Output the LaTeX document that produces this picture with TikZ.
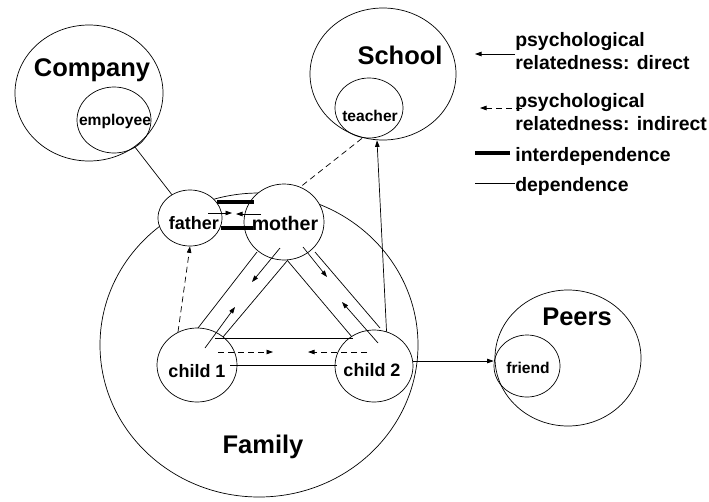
\documentclass[tikz,border=0pt]{standalone}
\usepackage{fontspec}
\setmainfont{Liberation Sans}
\usetikzlibrary{shapes.geometric,arrows.meta,calc}

\begin{document}
\begin{tikzpicture}[x=1pt,y=-1pt,line width=0.7pt,
    ring/.style={draw,ellipse,inner sep=0pt},
    kin/.style={ring,fill=white},
    big/.style={font=\fontsize{25.5}{30}\selectfont\bfseries,inner sep=0pt},
    small/.style={font=\fontsize{15.6}{18}\selectfont\bfseries,inner sep=0pt},
    kintxt/.style={font=\fontsize{18}{21}\selectfont\bfseries,inner sep=0pt},
    key/.style={font=\fontsize{19.4}{23}\selectfont\bfseries,inner sep=0pt,anchor=west,align=left},
    inter/.style={line width=3.8pt},
    rel/.style={-{Triangle[length=6.5pt,width=4.5pt]}},
    indrel/.style={rel,dash pattern=on 6pt off 4pt}]
  \useasboundingbox (0,0) rectangle (709,501);
  % spheres
  \node[ring,minimum width=148pt,minimum height=136pt] (company) at (89,93) {};
  \node[ring,minimum width=74pt,minimum height=66pt] (employee) at (114,120) {};
  \node[ring,minimum width=146pt,minimum height=132pt] (school) at (383,74) {};
  \node[ring,minimum width=68pt,minimum height=60pt] (teacher) at (369,108) {};
  \node[ring,minimum width=146pt,minimum height=136pt] (peers) at (568,358) {};
  \node[ring,minimum width=66pt,minimum height=62pt] (friend) at (527,366) {};
  \node[ring,minimum width=318pt,minimum height=304pt] (family) at (259,345) {};
  \node[kin,minimum width=64pt,minimum height=56pt] (father) at (190,218) {};
  \node[kin,minimum width=80pt,minimum height=76pt] (mother) at (284,222) {};
  \node[ring,minimum width=80pt,minimum height=74pt] (child1) at (197,365) {};
  \node[ring,minimum width=78pt,minimum height=72pt] (child2) at (374,366) {};
  \node[big] (companytxt) at (92,70) {Company};
  \node[big] (schooltxt) at (400,55) {School};
  \node[big] (peerstxt) at (577,317) {Peers};
  \node[big] (familytxt) at (263,447) {Family};
  \node[small] (employeetxt) at (115,121) {employee};
  \node[small] (teachertxt) at (370,116) {teacher};
  \node[small] (friendtxt) at (528,368) {friend};
  \node[kintxt] (fathertxt) at (194,223) {father};
  \node[kintxt,font=\fontsize{19.6}{22}\selectfont\bfseries] (mothertxt) at (285,223) {mother};
  \node[kintxt] (child1txt) at (197,371) {child 1};
  \node[kintxt] (child2txt) at (372,370) {child 2};
  % outside the family
  \draw (employee) -- (father);
  \draw[dash pattern=on 6pt off 4pt] ([xshift=-7pt]teacher.south) -- (mother.65);
  \draw[rel] (child2.70) -- ([xshift=-6pt]school.south);
  \draw[rel] ([yshift=5pt]child2.east) -- ([yshift=5pt]friend.west);
  % parents
  \draw[inter] ($(father)+(27,-16)$) -- ($(mother)+(-30,-20)$);
  \draw[inter] ($(father)+(31,10)$) -- ($(mother)+(-31,6)$);
  \draw[rel] ($(father)+(18,-5)$) -- ($(mother)+(-52,-9)$);
  \draw[rel] ($(mother)+(-23,-8)$) -- ($(mother)+(-48,-8)$);
  \draw[indrel] (child1.120) -- (father.south);
  % mother and children
  \draw ($(mother)+(-27,30)$) -- ($(child1)+(1,-37)$);
  \draw ($(mother)+(3,39)$) -- ($(child1)+(26,-28)$);
  \draw[rel] ($(mother)+(-4,26)$) -- ($(mother)+(-32,60)$);
  \draw[rel] ($(child1)+(8,-17)$) -- ($(child1)+(38,-58)$);
  \draw ($(mother)+(31,30)$) -- ($(child2)+(6,-38)$);
  \draw ($(mother)+(3,38)$) -- ($(child2)+(-22,-29)$);
  \draw[rel] ($(mother)+(19,25)$) -- ($(mother)+(43,55)$);
  \draw[rel] ($(child2)+(4,-23)$) -- ($(child2)+(-32,-64)$);
  % siblings
  \draw ($(child1)+(18,-27)$) -- ($(child2)+(-21,-28)$);
  \draw ($(child1)+(33,0)$) -- ($(child2)+(-37,-1)$);
  \draw[indrel] ($(child1)+(21,-13)$) -- ($(child1)+(76,-13)$);
  \draw[indrel] ($(child2)+(-7,-14)$) -- ($(child2)+(-66,-14)$);
  % key
  \node[key] (keydir) at (515,51) {psychological\\relatedness: direct};
  \node[key] (keyind) at (515,112) {psychological\\relatedness: indirect};
  \node[key] (keyint) at (515,156) {interdependence};
  \node[key] (keydep) at (515,186) {dependence};
  \coordinate (kdir) at (475,54);
  \coordinate (kind) at (480,108);
  \coordinate (kint) at (475,153);
  \coordinate (kdep) at (475,183);
  \draw[rel] ([yshift=-3pt]keydir.west) -- (kdir);
  \draw[indrel] ([xshift=7pt,yshift=4pt]keyind.west) -- (kind);
  \draw[inter] ([xshift=-5pt,yshift=3pt]keyint.west) -- (kint);
  \draw ([yshift=3pt]keydep.west) -- (kdep);
\end{tikzpicture}
\end{document}
